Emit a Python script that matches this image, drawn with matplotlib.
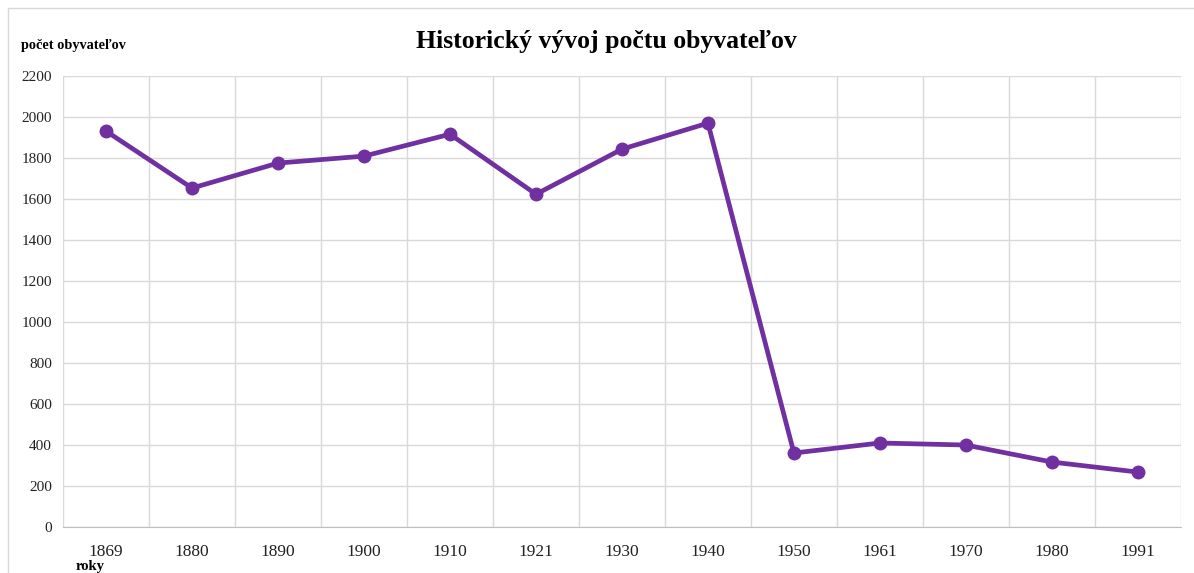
import matplotlib.pyplot as plt
from matplotlib.patches import Rectangle

# Údaje o počte obyvateľov
roky = ['1869', '1880', '1890', '1900', '1910', '1921', '1930', '1940',
        '1950', '1961', '1970', '1980', '1991']
obyvatelia = [1932, 1654, 1776, 1810, 1917, 1624, 1844, 1971,
              361, 410, 400, 317, 268]
y_ticks = list(range(0, 2201, 200))

plt.rcParams['font.family'] = ['Liberation Serif', 'DejaVu Serif']

fig = plt.figure(figsize=(11.94, 5.73), dpi=100)
ax = fig.add_axes([0.0528, 0.0803, 0.9362, 0.7867])

x = list(range(len(roky)))
ax.plot(x, obyvatelia, color='#7030A0', linewidth=3.4, marker='o',
        markersize=9, solid_joinstyle='round', zorder=3)

ax.set_xlim(-0.5, len(roky) - 0.5)
ax.set_ylim(0, 2200)
ax.set_yticks(y_ticks)
ax.set_yticklabels([str(v) for v in y_ticks], fontsize=11)
ax.set_xticks(x)
ax.set_xticklabels(roky, fontsize=12.5)
ax.tick_params(length=0, pad=8, colors='#222222')
ax.tick_params(axis='x', pad=12)

# mriežka medzi kategóriami
ax.set_xticks([i + 0.5 for i in range(-1, len(roky))], minor=True)
ax.grid(True, which='minor', axis='x', color='#d9d9d9', linewidth=1)
ax.grid(True, which='major', axis='y', color='#d9d9d9', linewidth=1)
ax.tick_params(which='minor', length=0)
for s in ax.spines.values():
    s.set_visible(False)
ax.spines['bottom'].set_visible(True)
ax.spines['bottom'].set_color('#bfbfbf')

fig.text(0.508, 0.927, 'Historický vývoj počtu obyvateľov', ha='center',
         va='center', fontsize=18.5, fontweight='bold')
fig.text(0.018, 0.921, 'počet obyvateľov', ha='left', va='center',
         fontsize=10.3, fontweight='bold')
fig.text(0.063, 0.012, 'roky', ha='left', va='center',
         fontsize=10.5, fontweight='bold')

fig.patches.append(Rectangle((0.007, -0.01), 1.0, 0.996, transform=fig.transFigure,
                             fill=False, edgecolor='#d9d9d9', linewidth=1))

fig.savefig('out.png', dpi=100)
